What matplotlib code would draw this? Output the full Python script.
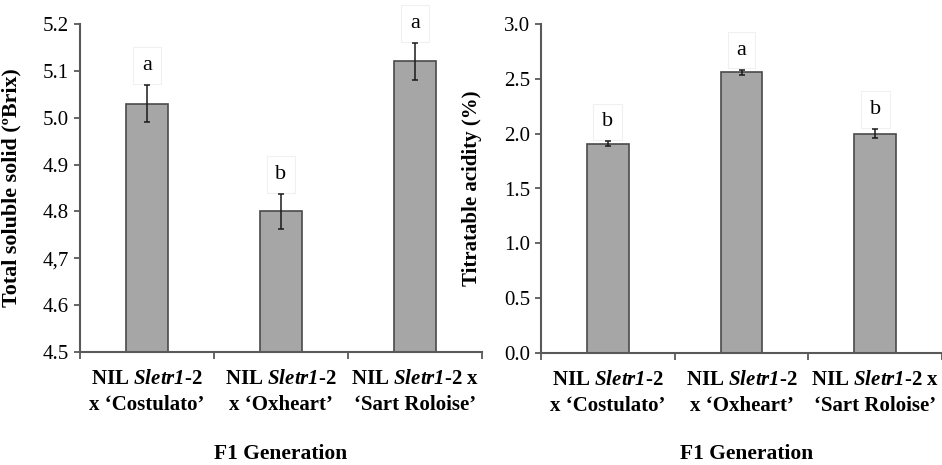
import matplotlib
matplotlib.use("Agg")
import matplotlib.pyplot as plt
import numpy as np

categories = ["NIL $\\mathsf{Sletr1}$-2\nx \u2018Costulato\u2019",
              "NIL $\\mathsf{Sletr1}$-2\nx \u2018Oxheart\u2019",
              "NIL $\\mathsf{Sletr1}$-2 x\n\u2018Sart Roloise\u2019"]
tss_values = [5.03, 4.80, 5.12]
tss_errors = [0.04, 0.038, 0.04]
tss_letters = ["a", "b", "a"]
tss_ticks = [4.5, 4.6, 4.7, 4.8, 4.9, 5.0, 5.1, 5.2]
tss_ticklabels = ["4.5", "4.6", "4,7", "4.8", "4.9", "5.0", "5.1", "5.2"]

ta_values = [1.91, 2.56, 2.00]
ta_errors = [0.02, 0.025, 0.04]
ta_letters = ["b", "a", "b"]
ta_ticks = [0.0, 0.5, 1.0, 1.5, 2.0, 2.5, 3.0]
ta_ticklabels = ["0.0", "0.5", "1.0", "1.5", "2.0", "2.5", "3.0"]

plt.rcParams['font.family'] = ['Liberation Serif', 'DejaVu Serif']
plt.rcParams['mathtext.fontset'] = 'custom'
plt.rcParams['mathtext.rm'] = 'Liberation Serif:bold'
plt.rcParams['mathtext.it'] = 'Liberation Serif:italic:bold'
plt.rcParams['mathtext.sf'] = 'Liberation Serif:italic:bold'
plt.rcParams['mathtext.bf'] = 'Liberation Serif:bold'

W, H = 942, 465
fig = plt.figure(figsize=(W / 100, H / 100), dpi=100)

axc = '#595959'

def panel(rect, values, errors, letters, ticks, ticklabels, ylim, ylabel, lab_x, lab_size):
    ax = fig.add_axes(rect)
    x = np.arange(len(values))
    ax.bar(x, np.array(values) - ylim[0], bottom=ylim[0], width=0.31,
           color='#a6a6a6', edgecolor='#4a4a4a', linewidth=1.2, zorder=2)
    ax.errorbar(x, values, yerr=errors, fmt='none', ecolor='#1a1a1a',
                elinewidth=1.1, capsize=2.3, capthick=1.1, zorder=5)
    for xi, v, e, l in zip(x, values, errors, letters):
        ax.annotate(l, (xi, v + e), xytext=(0, 14), textcoords='offset points',
                    ha='center', va='center', fontsize=16,
                    bbox=dict(boxstyle='square,pad=0.4', fc='white', ec='#f0f0f0', lw=0.8),
                    zorder=4)
    ax.set_xlim(-0.5, len(values) - 0.5)
    ax.set_ylim(*ylim)
    ax.set_yticks(ticks)
    ax.set_yticklabels(ticklabels, fontsize=15)
    ax.set_xticks(np.arange(-0.5, len(values)))
    ax.set_xticklabels([])
    ax.set_xticks(x, minor=True)
    ax.set_xticklabels(categories, minor=True, fontsize=15, fontweight='bold',
                       linespacing=1.4)
    ax.tick_params(axis='x', which='major', direction='out', length=5, width=1.3, color=axc)
    ax.tick_params(axis='x', which='minor', length=0, pad=12)
    ax.tick_params(axis='y', direction='out', length=4, width=1.3, color=axc, pad=4)
    for s in ['top', 'right']:
        ax.spines[s].set_visible(False)
    for s in ['left', 'bottom']:
        ax.spines[s].set_color(axc)
        ax.spines[s].set_linewidth(1.5)
    ax.set_ylabel(ylabel, fontsize=lab_size, fontweight='bold')
    ax.yaxis.set_label_coords(lab_x, 0.5)
    return ax

ax1 = panel([80 / W, 1 - 352 / H, 402 / W, 328 / H], tss_values, tss_errors, tss_letters,
            tss_ticks, tss_ticklabels, (4.5, 5.2), "Total soluble solid (\u00baBrix)", -0.145, 15.8)
ax2 = panel([541 / W, 1 - 353 / H, 401 / W, 329 / H], ta_values, ta_errors, ta_letters,
            ta_ticks, ta_ticklabels, (0.0, 3.0), "Titratable acidity (%)", -0.147, 15)

for xc in [281, 747]:
    fig.text(xc / W, 1 - 454 / H, "F1 Generation", ha='center', va='center',
             fontsize=15.5, fontweight='bold')

fig.savefig("out.png", dpi=100)
